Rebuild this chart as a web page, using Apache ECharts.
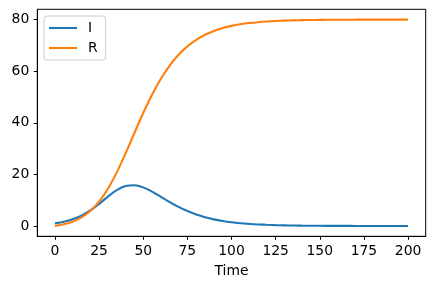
<!DOCTYPE html>
<html>
<head>
<meta charset="utf-8">
<script src="https://cdn.jsdelivr.net/npm/echarts@6/dist/echarts.min.js"></script>
<style>
html,body{margin:0;padding:0;background:#fff;}
#chart{width:434px;height:289px;}
</style>
</head>
<body>
<div id="chart"></div>
<script>
const time = [0,5,10,15,20,25,30,35,40,45,50,55,60,65,70,75,80,85,90,95,100,105,110,115,120,125,130,135,140,145,150,155,160,165,170,175,180,185,190,195,200];
const infected = [1.00,1.62,2.59,4.02,6.04,8.59,11.39,13.89,15.47,15.81,14.97,13.33,11.32,9.27,7.39,5.78,4.45,3.40,2.57,1.94,1.45,1.08,0.81,0.60,0.45,0.33,0.25,0.18,0.13,0.10,0.07,0.05,0.04,0.03,0.02,0.02,0.01,0.01,0.01,0.01,0.00];
const recovered = [0.00,0.65,1.68,3.30,5.80,9.44,14.44,20.78,28.17,36.05,43.79,50.89,57.05,62.20,66.35,69.63,72.17,74.13,75.61,76.72,77.57,78.19,78.66,79.01,79.27,79.47,79.61,79.72,79.80,79.85,79.90,79.93,79.95,79.97,79.98,79.99,79.99,80.00,80.01,80.01,80.01];
const xTicks = [0,25,50,75,100,125,150,175,200];
const yTicks = [0,20,40,60,80];
const seriesNames = ['I','R'];
const colors = ['#1f77b4','#ff7f0e'];

const FONT = 'DejaVu Sans';
const chart = echarts.init(document.getElementById('chart'), null, {renderer:'canvas'});
const toPairs = arr => time.map((t,i)=>[t,arr[i]]);
const axisCommon = {
  type:'value',
  axisLine:{show:true,onZero:false,lineStyle:{color:'#000',width:1}},
  splitLine:{show:false},
};
chart.setOption({
  animation:false,
  backgroundColor:'#fff',
  grid:{left:37.3,right:8.3,top:9.3,bottom:52.7,show:true,borderColor:'#000',borderWidth:1,backgroundColor:'#fff'},
  legend:{
    orient:'vertical',left:44,top:16,
    data:seriesNames,
    icon:'rect',
    itemWidth:28,itemHeight:2.1,itemGap:6,
    padding:[5,8,5,5],
    backgroundColor:'rgba(255,255,255,0.8)',
    borderColor:'#cccccc',borderWidth:1,borderRadius:3,
    textStyle:{fontFamily:FONT,fontSize:13.9,color:'#000',padding:[0,0,0,6]}
  },
  xAxis:Object.assign({},axisCommon,{
    min:-10,max:210,
    axisTick:{show:true,length:3.5,lineStyle:{color:'#000',width:1},customValues:xTicks},
    axisLabel:{customValues:xTicks,fontFamily:FONT,fontSize:13.9,color:'#000',margin:8},
    name:'Time',nameLocation:'middle',nameGap:28,
    nameTextStyle:{fontFamily:FONT,fontSize:13.9,color:'#000'}
  }),
  yAxis:Object.assign({},axisCommon,{
    min:-4,max:84,
    axisTick:{show:true,length:3.5,lineStyle:{color:'#000',width:1},customValues:yTicks},
    axisLabel:{customValues:yTicks,fontFamily:FONT,fontSize:13.9,color:'#000',margin:8}
  }),
  series:[
    {name:seriesNames[0],type:'line',data:toPairs(infected),symbol:'none',smooth:0.3,
     lineStyle:{color:colors[0],width:2.1},itemStyle:{color:colors[0]}},
    {name:seriesNames[1],type:'line',data:toPairs(recovered),symbol:'none',smooth:0.3,
     lineStyle:{color:colors[1],width:2.1},itemStyle:{color:colors[1]}}
  ]
});
</script>
</body>
</html>
